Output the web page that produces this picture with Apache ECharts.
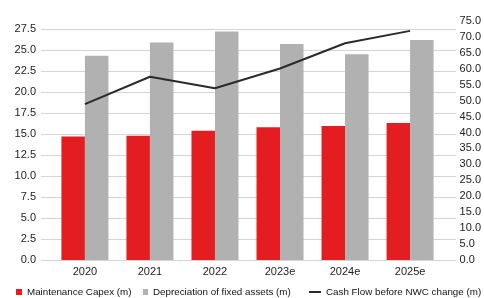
<!DOCTYPE html>
<html>
<head>
<meta charset="utf-8">
<script src="https://cdn.jsdelivr.net/npm/echarts@6/dist/echarts.min.js"></script>
<style>html,body{margin:0;padding:0;background:#fff}#c{width:484px;height:298px}</style>
</head>
<body>
<div id="c"></div>
<script>
var categories = ['2020', '2021', '2022', '2023e', '2024e', '2025e'];
var maintenanceCapex = [14.7, 14.8, 15.4, 15.8, 15.95, 16.3];
var depreciation = [24.3, 25.9, 27.2, 25.7, 24.5, 26.2];
var cashFlow = [48.9, 57.5, 53.9, 60.1, 68.0, 71.9];
var names = ['Maintenance Capex (m)', 'Depreciation of fixed assets (m)', 'Cash Flow before NWC change (m)'];

var chart = echarts.init(document.getElementById('c'), null, {renderer: 'canvas'});
var font = 'Liberation Sans, Arial, sans-serif';
var lbl = {color: '#222', fontSize: 11, fontFamily: font};
var legText = {color: '#111', fontSize: 9.8, fontFamily: font};
chart.setOption({
  animation: false,
  grid: [
    {left: 41, right: 28, top: 29, bottom: 38},
    {left: 52.4, right: 40.4, top: 21, bottom: 38}
  ],
  xAxis: [
    {gridIndex: 0, type: 'value', min: 0, max: 1, show: false},
    {gridIndex: 1, type: 'category', data: categories,
     axisLine: {show: false}, axisTick: {show: false},
     axisLabel: Object.assign({margin: 6}, lbl)}
  ],
  yAxis: [
    {gridIndex: 0, type: 'value', min: 0, max: 27.5, interval: 2.5,
     axisLine: {show: false}, axisTick: {show: false},
     axisLabel: Object.assign({margin: 5, formatter: function (v) { return v.toFixed(1); }}, lbl),
     splitLine: {show: true, lineStyle: {color: '#d4d4d4', width: 1}}},
    {gridIndex: 1, type: 'value', min: 0, max: 28.45, show: false, splitLine: {show: false}},
    {gridIndex: 1, type: 'value', position: 'right', min: 0, max: 75, interval: 5,
     axisLine: {show: false}, axisTick: {show: false}, splitLine: {show: false},
     axisLabel: Object.assign({margin: 17, formatter: function (v) { return v.toFixed(1); }}, lbl)}
  ],
  legend: [
    {data: [{name: names[0], icon: 'rect'}], left: 16, top: 287, padding: 0, itemWidth: 6, itemHeight: 6,
     textStyle: legText},
    {data: [{name: names[1], icon: 'rect'}], left: 143, top: 287, padding: 0, itemWidth: 5, itemHeight: 6,
     textStyle: legText},
    {data: [{name: names[2], icon: 'rect'}], left: 309, top: 287, padding: 0, itemWidth: 12, itemHeight: 2,
     textStyle: legText}
  ],
  series: [
    {name: names[0], type: 'bar', xAxisIndex: 1, yAxisIndex: 1, data: maintenanceCapex,
     barWidth: 23.5, barGap: '0%', itemStyle: {color: '#e41e20'}},
    {name: names[1], type: 'bar', xAxisIndex: 1, yAxisIndex: 1, data: depreciation,
     barWidth: 23.5, barGap: '0%', itemStyle: {color: '#b1b1b1'}},
    {name: names[2], type: 'line', xAxisIndex: 1, yAxisIndex: 2, data: cashFlow,
     symbol: 'none', lineStyle: {color: '#2a2a2a', width: 2}, itemStyle: {color: '#2a2a2a'}}
  ]
});
</script>
</body>
</html>
